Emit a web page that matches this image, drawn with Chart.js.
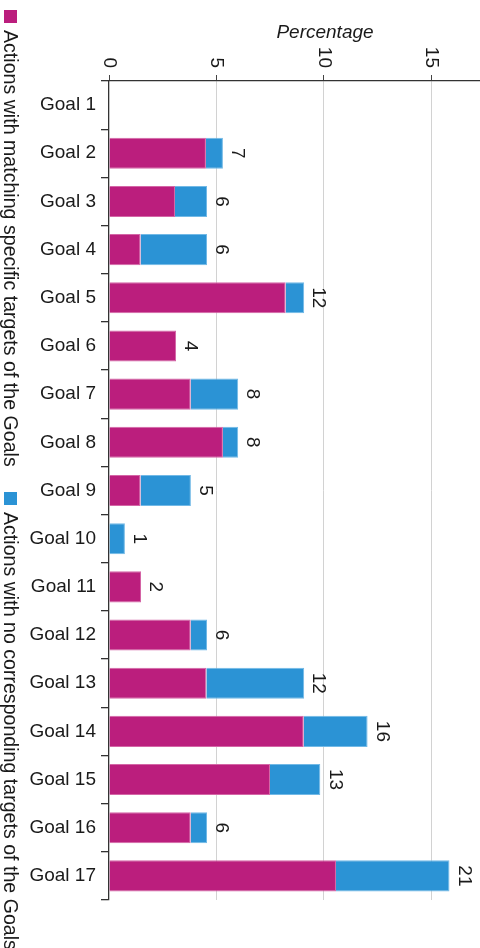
<!DOCTYPE html>
<html><head><meta charset="utf-8">
<script src="https://cdn.jsdelivr.net/npm/chart.js@4/dist/chart.umd.min.js"></script>
<style>html,body{margin:0;padding:0;background:#fff}#wrap{width:480px;height:948px}</style>
</head><body><div id="wrap"><canvas id="c" width="480" height="948"></canvas></div>
<script>
const categories = ["Goal 1","Goal 2","Goal 3","Goal 4","Goal 5","Goal 6","Goal 7","Goal 8","Goal 9","Goal 10","Goal 11","Goal 12","Goal 13","Goal 14","Goal 15","Goal 16","Goal 17"];
const matchingPct = [0, 4.51, 3.07, 1.47, 8.22, 3.12, 3.80, 5.30, 1.47, 0, 1.49, 3.80, 4.53, 9.06, 7.49, 3.80, 10.56];
const noMatchPct  = [0, 0.79, 1.49, 3.09, 0.86, 0, 2.21, 0.71, 2.34, 0.74, 0, 0.76, 4.55, 2.97, 2.34, 0.76, 5.28];
const countLabels = ["", "7", "6", "6", "12", "4", "8", "8", "5", "1", "2", "6", "12", "16", "13", "6", "21"];
const xTicks = [0, 5, 10, 15];
const seriesNames = ["Actions with matching specific targets of the Goals", "Actions with no corresponding targets of the Goals"];
const seriesColors = ["#BB1E7D", "#2B93D5"];
const seriesBorders = ["#D466A6", "#72B9E6"];
const axisTitle = "Percentage";
const FONT = '"Liberation Sans", Arial, sans-serif';
const TXT = '#1a1a1a';

const overlay = {
  id: 'overlay',
  afterDraw(chart) {
    const ctx = chart.ctx, xs = chart.scales.x, ys = chart.scales.y;
    ctx.save();
    ctx.fillStyle = TXT;
    // axis title
    ctx.font = 'italic 19px ' + FONT;
    ctx.textAlign = 'center'; ctx.textBaseline = 'alphabetic';
    ctx.fillText(axisTitle, 325, 38);
    // rotated tick labels
    ctx.font = '19px ' + FONT;
    xTicks.forEach(v => {
      ctx.save();
      ctx.translate(xs.getPixelForValue(v), 68);
      ctx.rotate(Math.PI / 2);
      ctx.textAlign = 'right'; ctx.textBaseline = 'middle';
      ctx.fillText(String(v), 0, 0);
      ctx.restore();
    });
    // count labels
    countLabels.forEach((t, i) => {
      if (!t) return;
      const total = matchingPct[i] + noMatchPct[i];
      const x = xs.getPixelForValue(total) + 5;
      const y = ys.getPixelForValue(i);
      ctx.save();
      ctx.translate(x, y);
      ctx.rotate(Math.PI / 2);
      ctx.textAlign = 'center'; ctx.textBaseline = 'bottom';
      ctx.fillText(t, 0, 0);
      ctx.restore();
    });
    // legend (rotated)
    const legendY = [10, 492];
    seriesNames.forEach((name, k) => {
      ctx.fillStyle = seriesColors[k];
      ctx.fillRect(4, legendY[k], 13, 13);
      ctx.fillStyle = TXT;
      ctx.save();
      ctx.translate(4, legendY[k] + 20);
      ctx.rotate(Math.PI / 2);
      ctx.textAlign = 'left'; ctx.textBaseline = 'alphabetic';
      ctx.font = '19.6px ' + FONT;
      ctx.fillText(name, 0, 0);
      ctx.restore();
    });
    ctx.restore();
  }
};

new Chart(document.getElementById('c'), {
  type: 'bar',
  data: {
    labels: categories,
    datasets: [
      { label: seriesNames[0], data: matchingPct, backgroundColor: seriesColors[0], borderColor: seriesBorders[0], borderWidth: 1, barPercentage: 0.645, categoryPercentage: 1 },
      { label: seriesNames[1], data: noMatchPct, backgroundColor: seriesColors[1], borderColor: seriesBorders[1], borderWidth: 1, barPercentage: 0.645, categoryPercentage: 1 }
    ]
  },
  options: {
    indexAxis: 'y',
    responsive: false,
    animation: false,
    devicePixelRatio: 1,
    layout: { padding: { left: 0, top: 0, right: 0, bottom: 48 } },
    plugins: { legend: { display: false }, tooltip: { enabled: false } },
    scales: {
      x: {
        position: 'top', stacked: true, min: 0, max: 17.26,
        afterBuildTicks: s => { s.ticks = xTicks.map(v => ({ value: v })); },
        afterFit: s => { s.height = 81; },
        ticks: { display: false },
        grid: { color: c => (c.tick && c.tick.value === 0) ? 'rgba(0,0,0,0)' : '#d2d2d2', tickColor: '#444', tickLength: 6, lineWidth: 1 },
        border: { display: true, color: '#333', width: 1.3 }
      },
      y: {
        stacked: true,
        afterFit: s => { s.width = 109; },
        ticks: { color: TXT, font: { family: FONT, size: 19 }, padding: 5 },
        grid: { offset: true, drawOnChartArea: false, drawTicks: true, tickLength: 8, color: '#333', lineWidth: 1.3 },
        border: { display: true, color: '#333', width: 1.3 }
      }
    }
  },
  plugins: [overlay]
});
</script></body></html>
